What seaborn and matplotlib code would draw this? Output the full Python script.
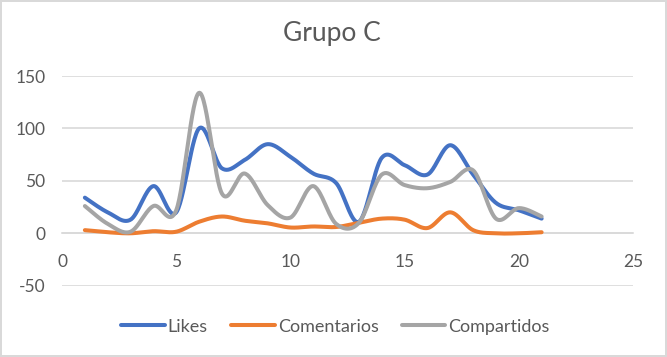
import numpy as np
import pandas as pd
import matplotlib
matplotlib.use("Agg")
import matplotlib.pyplot as plt
import seaborn as sns

# ---- data ----
dias = [1, 2, 3, 4, 5, 6, 7, 8, 9, 10, 11, 12, 13, 14, 15, 16, 17, 18, 19, 20, 21]
likes = [34, 20, 13, 45, 20, 100, 62, 70, 85, 73, 57, 48, 11, 72, 65, 56, 84, 56, 29, 22, 14]
comentarios = [3, 1, 0, 2, 1.5, 11, 16, 12, 9.5, 5.5, 6.5, 6, 10, 14, 13, 5, 20, 3, 0, 0, 1]
compartidos = [26, 9, 1.5, 26, 22, 134, 38, 57, 27, 15, 45, 9, 10, 56, 46, 43, 49, 60, 14, 24, 16]
series_names = ["Likes", "Comentarios", "Compartidos"]
titulo = "Grupo C"
x_ticks = [0, 5, 10, 15, 20, 25]
y_ticks = [-50, 0, 50, 100, 150]

colors = ["#4472C4", "#ED7D31", "#A5A5A5"]
text_color = "#595959"
grid_color = "#D9D9D9"


def smooth(xs, ys, n=30):
    """Excel-style smoothed line (Catmull-Rom / cubic Bezier through the points)."""
    xs = np.asarray(xs, float)
    ys = np.asarray(ys, float)
    px = np.concatenate([[xs[0]], xs, [xs[-1]]])
    py = np.concatenate([[ys[0]], ys, [ys[-1]]])
    out_x, out_y = [], []
    t = np.linspace(0, 1, n, endpoint=False)
    for i in range(1, len(px) - 2):
        p0x, p1x, p2x, p3x = px[i - 1], px[i], px[i + 1], px[i + 2]
        p0y, p1y, p2y, p3y = py[i - 1], py[i], py[i + 1], py[i + 2]
        c1x, c1y = p1x + (p2x - p0x) / 6, p1y + (p2y - p0y) / 6
        c2x, c2y = p2x - (p3x - p1x) / 6, p2y - (p3y - p1y) / 6
        b0, b1, b2, b3 = (1 - t) ** 3, 3 * (1 - t) ** 2 * t, 3 * (1 - t) * t ** 2, t ** 3
        out_x.extend(b0 * p1x + b1 * c1x + b2 * c2x + b3 * p2x)
        out_y.extend(b0 * p1y + b1 * c1y + b2 * c2y + b3 * p2y)
    out_x.append(xs[-1])
    out_y.append(ys[-1])
    return np.array(out_x), np.array(out_y)


sns.set_theme(style="white")
plt.rcParams["font.family"] = ["Lato", "DejaVu Sans"]

fig = plt.figure(figsize=(6.67, 3.57), dpi=100)
fig.patch.set_facecolor("white")
fig.patch.set_edgecolor(grid_color)
fig.patch.set_linewidth(1.5)
ax = fig.add_axes([0.093, 0.1997, 0.856, 0.5873])

frames = []
for name, vals in zip(series_names, [likes, comentarios, compartidos]):
    sx, sy = smooth(dias, vals)
    frames.append(pd.DataFrame({"x": sx, "y": sy, "serie": name}))
df = pd.concat(frames, ignore_index=True)

sns.lineplot(data=df, x="x", y="y", hue="serie", palette=colors, hue_order=series_names,
             sort=False, estimator=None, units="serie", linewidth=2.9, ax=ax, legend=False)

ax.set_xlim(0, 25)
ax.set_ylim(-50, 150)
ax.set_xticks(x_ticks)
ax.set_yticks(y_ticks)
ax.set_xticklabels([str(v) for v in x_ticks])
ax.set_yticklabels([str(v) for v in y_ticks])
ax.set_xlabel("")
ax.set_ylabel("")
ax.yaxis.grid(True, color=grid_color, linewidth=1.2)
ax.xaxis.grid(False)
ax.set_axisbelow(True)
for s in ["top", "right", "left"]:
    ax.spines[s].set_visible(False)
ax.spines["bottom"].set_position(("data", 0))
ax.spines["bottom"].set_color(grid_color)
ax.spines["bottom"].set_linewidth(1.2)
ax.spines["bottom"].set_zorder(0.5)
ax.tick_params(axis="both", length=0, labelsize=12.5, labelcolor=text_color)
ax.tick_params(axis="x", pad=15)
ax.tick_params(axis="y", pad=12)

fig.text(0.497, 0.905, titulo, ha="center", va="center", fontsize=19, color=text_color)

handles = [plt.Line2D([], [], color=c, linewidth=2.9) for c in colors]
fig.legend(handles, series_names, loc="center", bbox_to_anchor=(0.503, 0.085), ncol=3,
           frameon=False, fontsize=13, labelcolor=text_color, handlelength=2.4,
           handletextpad=0.17, columnspacing=1.3)

fig.savefig("out.png", dpi=100)
